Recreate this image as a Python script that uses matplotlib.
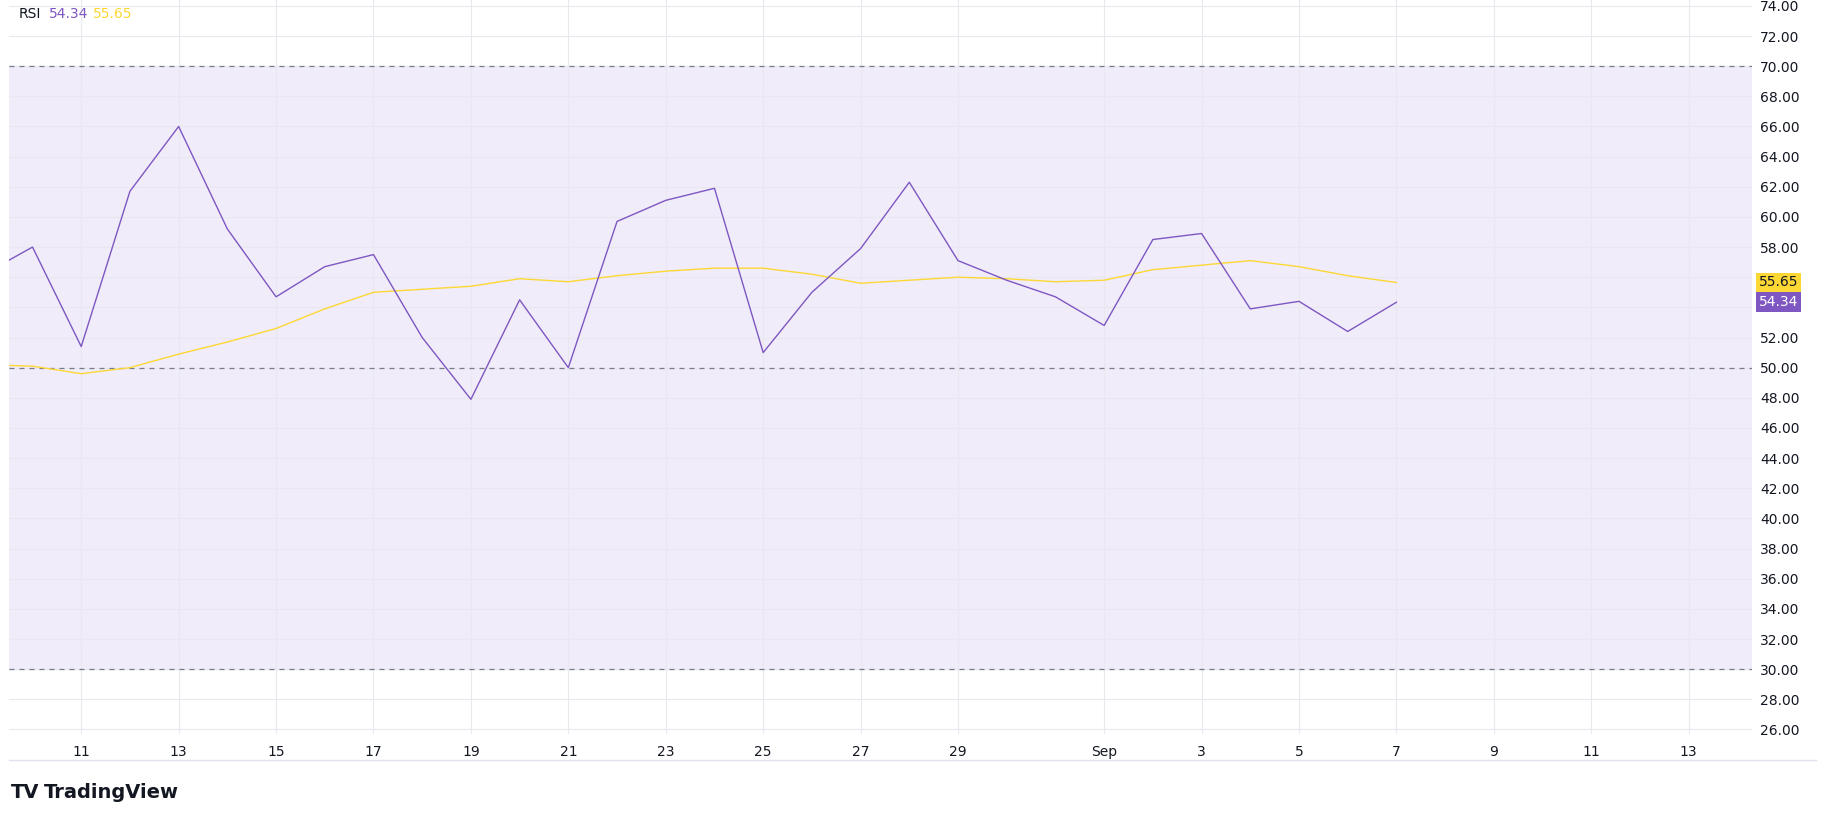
import matplotlib
matplotlib.use("Agg")
import matplotlib.pyplot as plt
import numpy as np

PURPLE = "#7E57C2"
YELLOW = "#FDD835"

# days counted from Aug 1 (Aug 9 .. Sep 7)
rsi = [56.2, 58.0, 51.4, 61.7, 66.0, 59.2, 54.7, 56.7, 57.5, 52.0, 47.9, 54.5,
       50.0, 59.7, 61.1, 61.9, 51.0, 55.0, 57.9, 62.3, 57.1, 55.8, 54.7, 52.8,
       58.5, 58.9, 53.9, 54.4, 52.4, 54.34]
rsi_ma = [50.2, 50.1, 49.6, 50.0, 50.9, 51.7, 52.6, 53.9, 55.0, 55.2, 55.4, 55.9,
          55.7, 56.1, 56.4, 56.6, 56.6, 56.2, 55.6, 55.8, 56.0, 55.9, 55.7, 55.8,
          56.5, 56.8, 57.1, 56.7, 56.1, 55.65]
days = np.arange(9, 9 + len(rsi))

tick_days = [11, 13, 15, 17, 19, 21, 23, 25, 27, 29, 32, 34, 36, 38, 40, 42, 44]
tick_labels = ["11", "13", "15", "17", "19", "21", "23", "25", "27", "29",
               "Sep", "3", "5", "7", "9", "11", "13"]

fig = plt.figure(figsize=(18.25, 8.21), dpi=100)
ax = fig.add_axes([0.005, 0.106, 0.955, 0.894])

ax.axhspan(30, 70, color="#f0ecf9", zorder=0)
for lvl in (70, 50, 30):
    ax.axhline(lvl, color="#787b8a", linestyle=(0, (4, 4)), linewidth=0.9, zorder=2)

ax.plot(days, rsi_ma, color=YELLOW, linewidth=1.0, zorder=3)
ax.plot(days, rsi, color=PURPLE, linewidth=1.0, zorder=4)

yt = np.arange(26, 75, 2)
ax.set_xlim(9.52, 45.3)
ax.set_ylim(25.7, 74.39)
ax.set_yticks(yt)
ax.set_yticklabels(["" if v in (54, 56) else f"{v:.2f}" for v in yt])
ax.yaxis.tick_right()
ax.set_xticks(tick_days)
ax.set_xticklabels(tick_labels)
ax.tick_params(axis="both", length=0, labelsize=10, colors="#131722")
ax.tick_params(axis="y", pad=6)
ax.tick_params(axis="x", pad=8)
ax.grid(True, color="#e8e8ee", linewidth=0.8, zorder=1)
for s in ax.spines.values():
    s.set_visible(False)

# last value labels on the price scale
for val, col, tcol in ((55.65, YELLOW, "#131722"), (54.34, PURPLE, "white")):
    ax.text(1.004, (val - 25.7) / (74.39 - 25.7), f"{val:.2f}", transform=ax.transAxes,
            fontsize=10, color=tcol, va="center", ha="left",
            bbox=dict(boxstyle="square,pad=0.2", fc=col, ec="none"))

fig.text(0.01, 0.983, "RSI", fontsize=10, color="#131722", va="center")
fig.text(0.027, 0.983, "54.34", fontsize=10, color=PURPLE, va="center")
fig.text(0.051, 0.983, "55.65", fontsize=10, color=YELLOW, va="center")

fig.add_artist(plt.Line2D([0.005, 0.995], [0.074, 0.074], color="#e0e3eb", linewidth=1))
fig.text(0.006, 0.035, "TV", fontsize=14, fontweight="bold", color="#131722", va="center")
fig.text(0.024, 0.035, "TradingView", fontsize=14, fontweight="bold", color="#131722", va="center")

plt.savefig("out.png", dpi=100)
